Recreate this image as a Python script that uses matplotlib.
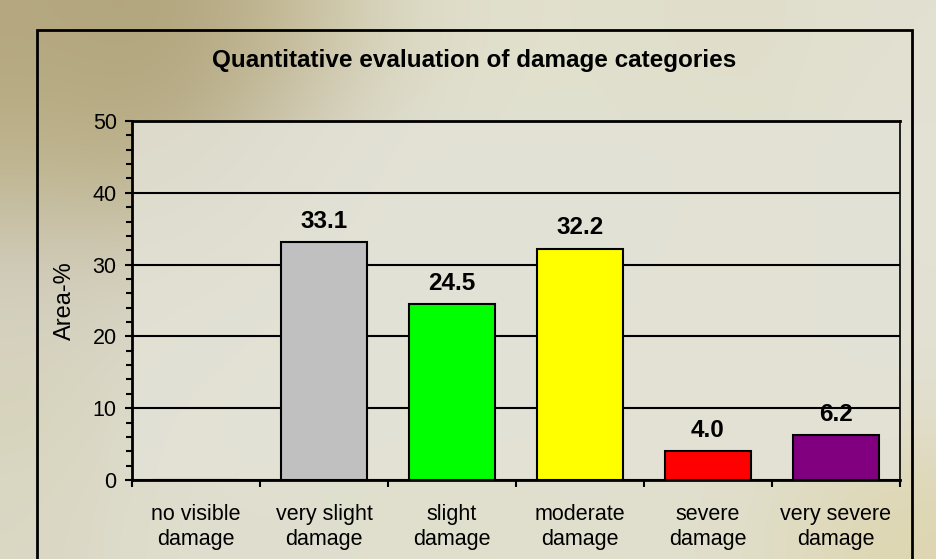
"""
Quantitative evaluation of damage categories (bar chart)
"""

import numpy as np
import matplotlib
matplotlib.use('Agg')
import matplotlib.pyplot as plt
from matplotlib.patches import Rectangle

plt.rcParams['font.family'] = ['Liberation Sans', 'DejaVu Sans']

#------------------------------------------------------------------------------
# data
categories = ['no visible\ndamage', 'very slight\ndamage', 'slight\ndamage',
              'moderate\ndamage', 'severe\ndamage', 'very severe\ndamage']
area_pct   = [0.0, 33.1, 24.5, 32.2, 4.0, 6.2]
bar_colors = ['#C0C0C0', '#C0C0C0', '#00FF00', '#FFFF00', '#FF0000', '#800080']
yticks     = [0, 10, 20, 30, 40, 50]

title = 'Quantitative evaluation of damage categories'
ylab  = 'Area-%'

# plotting settings
W, H = 937, 559
fsize = 15.5   # tick / category labels
bsize = 17.5   # bold title and value labels
lsize = 17     # y label
lw = 1.5

fig = plt.figure(figsize=(W/100, H/100), dpi=100)
fig.patch.set_facecolor('#E0DFC8')

# blurred background (decoration only)
bg = fig.add_axes([0, 0, 1, 1], zorder=-10)
bg_img = np.array([
    [[181,168,128],[176,164,124],[196,186,150],[222,220,200],[226,225,205],[224,223,203],[224,222,202],[226,224,208]],
    [[190,180,140],[186,176,138],[214,210,196],[226,226,214],[224,224,208],[226,225,212],[224,223,204],[228,226,214]],
    [[212,208,196],[214,210,190],[224,222,208],[225,225,212],[224,224,210],[224,223,208],[224,222,205],[226,225,210]],
    [[214,210,185],[222,222,212],[224,223,210],[224,224,210],[225,224,210],[224,223,206],[224,223,206],[226,224,212]],
    [[218,216,196],[224,222,206],[224,223,207],[224,223,205],[224,223,206],[225,224,208],[224,222,200],[222,214,176]],
], dtype=float) / 255.0
bg.imshow(bg_img, aspect='auto', interpolation='bicubic', extent=[0, 1, 0, 1])
bg.set_xlim(0, 1)
bg.set_ylim(0, 1)
bg.axis('off')

# chart frame
frame = Rectangle((37/W, 1 - 650/H), (912-37)/W, (650-30)/H,
                  transform=fig.transFigure, fill=False,
                  edgecolor='k', linewidth=2.0, zorder=1)
fig.patches.append(frame)

#------------------------------------------------------------------------------
ax = fig.add_axes([132/W, 1 - 480/H, (900-132)/W, (480-121)/H])
ax.set_facecolor((0.89, 0.885, 0.84, 0.85))

x = np.arange(len(categories))
ax.bar(x, area_pct, width=0.67, color=bar_colors, edgecolor='k',
       linewidth=lw, zorder=3)

for xi, v in zip(x, area_pct):
    if v > 0:
        ax.annotate('%.1f' % v, xy=(xi, v), xytext=(0, 10.5),
                    textcoords='offset points', ha='center', va='baseline',
                    fontsize=bsize, fontweight='bold')

ax.set_xlim(-0.5, len(categories) - 0.5)
ax.set_ylim(0, 50)

# y axis
ax.set_yticks(yticks)
ax.set_yticks(np.arange(0, 51, 2), minor=True)
ax.tick_params(axis='y', which='major', direction='out', length=5, width=lw,
               labelsize=fsize, pad=6)
ax.tick_params(axis='y', which='minor', direction='out', length=4, width=lw)
ax.yaxis.grid(True, color='k', linewidth=lw, zorder=1)
ax.set_axisbelow(True)
ax.set_ylabel(ylab, fontsize=lsize, labelpad=12)

# x axis: ticks at category boundaries, labels at centres
ax.set_xticks(np.arange(-0.5, len(categories), 1.0))
ax.set_xticklabels([])
ax.set_xticks(x, minor=True)
ax.set_xticklabels(categories, minor=True, fontsize=fsize, linespacing=1.3)
ax.tick_params(axis='x', which='major', direction='out', length=5, width=lw)
ax.tick_params(axis='x', which='minor', length=0, pad=17)

for s in ['left', 'bottom', 'top']:
    ax.spines[s].set_linewidth(2.0)
ax.spines['right'].set_linewidth(1.2)

fig.text(474/W, 1 - 60/H, title, ha='center', va='center',
         fontsize=bsize, fontweight='bold')

plt.savefig('out.png', dpi=100)
